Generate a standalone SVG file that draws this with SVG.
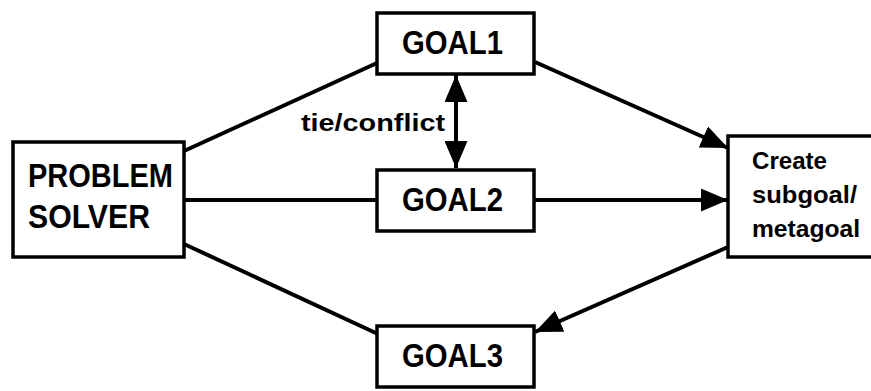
<svg xmlns="http://www.w3.org/2000/svg" width="871" height="391" viewBox="0 0 871 391">
  <defs>
    <marker id="head" markerUnits="userSpaceOnUse" markerWidth="27" markerHeight="23" refX="27" refY="11.5" orient="auto-start-reverse">
      <path d="M0,0 L27,11.5 L0,23 Z" fill="#000"/>
    </marker>
    <style>
      .box { fill: #fff; stroke: #000; stroke-width: 3.5; }
      .edge { fill: none; stroke: #000; stroke-width: 4; }
      .big { font-family: "Liberation Sans", Arial, sans-serif; font-weight: bold; font-size: 34px; fill: #000; }
      .small { font-family: "Liberation Sans", Arial, sans-serif; font-weight: bold; font-size: 24px; fill: #000; }
    </style>
  </defs>
  <rect width="871" height="391" fill="#fff"/>

  <g id="connectors">
    <line class="edge" x1="184" y1="151" x2="377" y2="63"/>
    <line class="edge" x1="184" y1="200" x2="377" y2="200"/>
    <line class="edge" x1="184" y1="244" x2="378" y2="334"/>
    <line class="edge" x1="535" y1="62" x2="728" y2="148" marker-end="url(#head)"/>
    <line class="edge" x1="535" y1="200" x2="728" y2="200" marker-end="url(#head)"/>
    <line class="edge" x1="728" y1="247" x2="535" y2="332" marker-end="url(#head)"/>
    <line class="edge" x1="456" y1="75" x2="456" y2="168" marker-start="url(#head)" marker-end="url(#head)"/>
    <text class="small" x="301" y="131" textLength="144" lengthAdjust="spacingAndGlyphs">tie/conflict</text>
  </g>

  <g id="problem-solver">
    <rect class="box" x="13" y="142" width="171" height="115"/>
    <text class="big" x="28" y="187" textLength="145" lengthAdjust="spacingAndGlyphs">PROBLEM</text>
    <text class="big" x="28" y="228" textLength="122" lengthAdjust="spacingAndGlyphs">SOLVER</text>
  </g>

  <g id="goal1">
    <rect class="box" x="377" y="13" width="157" height="61"/>
    <text class="big" x="402" y="54" textLength="101" lengthAdjust="spacingAndGlyphs">GOAL1</text>
  </g>

  <g id="goal2">
    <rect class="box" x="377" y="170" width="157" height="61"/>
    <text class="big" x="402" y="211" textLength="101" lengthAdjust="spacingAndGlyphs">GOAL2</text>
  </g>

  <g id="goal3">
    <rect class="box" x="377" y="326" width="157" height="61"/>
    <text class="big" x="402" y="367" textLength="101" lengthAdjust="spacingAndGlyphs">GOAL3</text>
  </g>

  <g id="create-subgoal">
    <rect class="box" x="728" y="136" width="150" height="121"/>
    <text class="small" x="752" y="169" textLength="75" lengthAdjust="spacingAndGlyphs">Create</text>
    <text class="small" x="752" y="203" textLength="105" lengthAdjust="spacingAndGlyphs">subgoal/</text>
    <text class="small" x="752" y="237" textLength="108" lengthAdjust="spacingAndGlyphs">metagoal</text>
  </g>
</svg>
